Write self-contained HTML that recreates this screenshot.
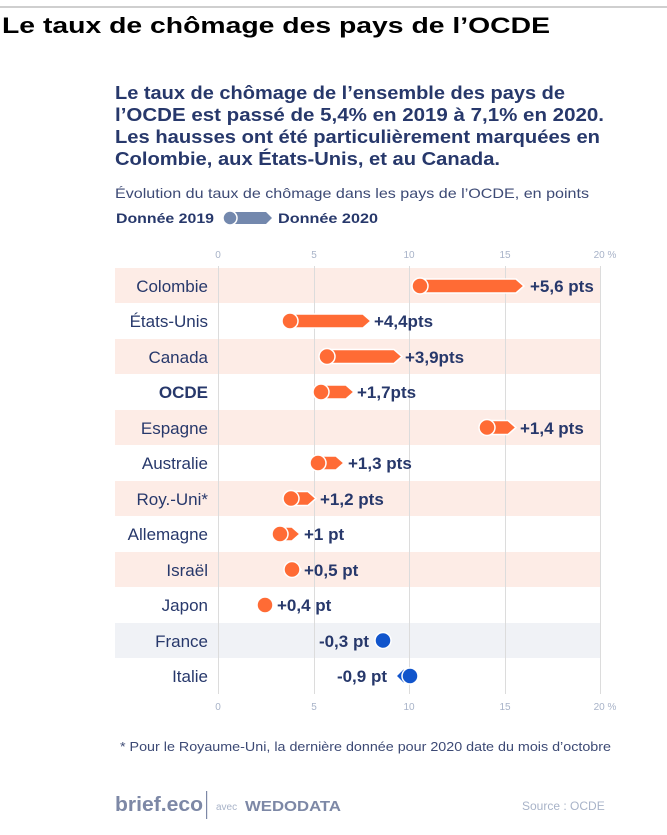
<!DOCTYPE html>
<html><head><meta charset="utf-8"><style>
html,body{margin:0;padding:0;background:#fff;}
svg{display:block;}
text{font-family:"Liberation Sans",sans-serif;}
</style></head><body>
<svg width="667" height="835" viewBox="0 0 667 835" xmlns="http://www.w3.org/2000/svg">
<rect x="0" y="6" width="667" height="2" fill="#cfcfcf"/>
<text x="2" y="33" font-family="DejaVu Sans" font-weight="bold" font-size="22" fill="#000" textLength="548" lengthAdjust="spacingAndGlyphs">Le taux de chômage des pays de l’OCDE</text>
<g font-weight="bold" font-size="18.5" fill="#27386b">
<text x="115" y="99" textLength="450" lengthAdjust="spacingAndGlyphs">Le taux de chômage de l’ensemble des pays de</text>
<text x="115" y="121" textLength="489" lengthAdjust="spacingAndGlyphs">l’OCDE est passé de 5,4% en 2019 à 7,1% en 2020.</text>
<text x="115" y="143" textLength="485" lengthAdjust="spacingAndGlyphs">Les hausses ont été particulièrement marquées en</text>
<text x="115" y="165" textLength="385" lengthAdjust="spacingAndGlyphs">Colombie, aux États-Unis, et au Canada.</text>
</g>
<text x="115" y="198" font-size="14" fill="#3d4a75" textLength="474" lengthAdjust="spacingAndGlyphs">Évolution du taux de chômage dans les pays de l’OCDE, en points</text>
<g font-weight="bold" font-size="13.5" fill="#27386b">
<text x="116" y="223" textLength="98" lengthAdjust="spacingAndGlyphs">Donnée 2019</text>
<text x="278" y="223" textLength="100" lengthAdjust="spacingAndGlyphs">Donnée 2020</text>
</g>
<path d="M230 212 H266 L272 218 L266 224 H230 Z" fill="#7388ad"/>
<circle cx="230" cy="218" r="7" fill="#7388ad" stroke="#fff" stroke-width="1.5"/>
<g>
<rect x="115" y="268" width="485" height="35" fill="#fdece6"/>
<rect x="115" y="339" width="485" height="35" fill="#fdece6"/>
<rect x="115" y="410" width="485" height="35" fill="#fdece6"/>
<rect x="115" y="481" width="485" height="35" fill="#fdece6"/>
<rect x="115" y="552" width="485" height="35" fill="#fdece6"/>
<rect x="115" y="623" width="485" height="35" fill="#f0f2f6"/>
</g>
<g stroke="#dcdcdc" stroke-width="1">
<line x1="218.5" y1="266" x2="218.5" y2="694"/>
<line x1="314.5" y1="266" x2="314.5" y2="694"/>
<line x1="409.5" y1="266" x2="409.5" y2="694"/>
<line x1="505.5" y1="266" x2="505.5" y2="694"/>
<line x1="600.5" y1="266" x2="600.5" y2="694"/>
</g>
<g font-size="10" fill="#a8b3c8" text-anchor="middle">
<text x="218" y="258">0</text><text x="314" y="258">5</text><text x="409" y="258">10</text><text x="505" y="258">15</text><text x="605" y="258">20 %</text>
<text x="218" y="710">0</text><text x="314" y="710">5</text><text x="409" y="710">10</text><text x="505" y="710">15</text><text x="605" y="710">20 %</text>
</g>
<g font-size="17" fill="#27386b" text-anchor="end">
<text x="208" y="292">Colombie</text>
<text x="208" y="327">États-Unis</text>
<text x="208" y="363">Canada</text>
<text x="208" y="398" font-weight="bold">OCDE</text>
<text x="208" y="434">Espagne</text>
<text x="208" y="469">Australie</text>
<text x="208" y="505">Roy.-Uni*</text>
<text x="208" y="540">Allemagne</text>
<text x="208" y="576">Israël</text>
<text x="208" y="611">Japon</text>
<text x="208" y="647">France</text>
<text x="208" y="682">Italie</text>
</g>
<g fill="#ff6b35" stroke="#fff" stroke-width="1.5">
<path d="M420 279 H516 L524 286 L516 293 H420 Z"/><circle cx="420" cy="286" r="8"/>
<path d="M290 314 H363 L371 321 L363 328 H290 Z"/><circle cx="290" cy="321" r="8"/>
<path d="M327 349.5 H394 L402 356.5 L394 363.5 H327 Z"/><circle cx="327" cy="356.5" r="8"/>
<path d="M321 385 H346 L354 392 L346 399 H321 Z"/><circle cx="321" cy="392" r="8"/>
<path d="M487 420.5 H508 L516 427.5 L508 434.5 H487 Z"/><circle cx="487" cy="427.5" r="8"/>
<path d="M318 456 H336 L344 463 L336 470 H318 Z"/><circle cx="318" cy="463" r="8"/>
<path d="M291 491.5 H308 L316 498.5 L308 505.5 H291 Z"/><circle cx="291" cy="498.5" r="8"/>
<path d="M280 527 H292 L300 534 L292 541 H280 Z"/><circle cx="280" cy="534" r="8"/>
<path d="M292 562.5 H294 L301 569.5 L294 576.5 H292 Z"/><circle cx="292" cy="569.5" r="8"/>
<circle cx="265" cy="605" r="8"/>
</g>
<g fill="#1155cc" stroke="#fff" stroke-width="1.5">
<circle cx="383" cy="640.5" r="8"/>
<path d="M410 669 H403 L396 676 L403 683 H410 Z"/><circle cx="410" cy="676" r="8"/>
</g>
<g font-weight="bold" font-size="17" fill="#27386b">
<text x="530" y="292">+5,6 pts</text>
<text x="374" y="327">+4,4pts</text>
<text x="405" y="363">+3,9pts</text>
<text x="357" y="398">+1,7pts</text>
<text x="520" y="434">+1,4 pts</text>
<text x="348" y="469">+1,3 pts</text>
<text x="320" y="505">+1,2 pts</text>
<text x="304" y="540">+1 pt</text>
<text x="304" y="576">+0,5 pt</text>
<text x="277" y="611">+0,4 pt</text>
<text x="369" y="647" text-anchor="end">-0,3 pt</text>
<text x="387" y="682" text-anchor="end">-0,9 pt</text>
</g>
<text x="120" y="751" font-size="12.5" fill="#3d4a75" textLength="491" lengthAdjust="spacingAndGlyphs">* Pour le Royaume-Uni, la dernière donnée pour 2020 date du mois d’octobre</text>
<text x="115" y="811" font-weight="bold" font-size="20" fill="#7d88a6" textLength="88" lengthAdjust="spacingAndGlyphs">brief.eco</text>
<rect x="206" y="791" width="1.2" height="28" fill="#7d88a6"/>
<text x="216" y="810" font-size="10" fill="#a8b3c8">avec</text>
<text x="245" y="811" font-weight="bold" font-size="15" fill="#7d88a6" textLength="96" lengthAdjust="spacingAndGlyphs">WEDODATA</text>
<text x="522" y="810" font-size="12" fill="#a8b3c8">Source : OCDE</text>
</svg>
</body></html>
